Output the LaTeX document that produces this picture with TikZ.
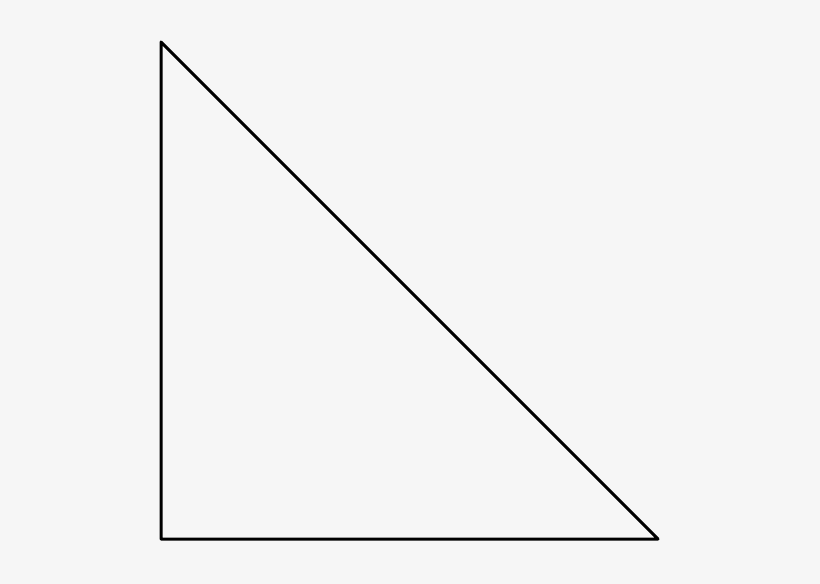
\documentclass[tikz,border=0pt]{standalone}
\definecolor{bg}{HTML}{F6F6F6}
\begin{document}
\begin{tikzpicture}[x=1pt,y=-1pt,edge/.style={line width=3pt,line join=round,line cap=round,black}]
\fill[bg] (0,0) rectangle (820,584);
\useasboundingbox (0,0) rectangle (820,584);
\coordinate (a) at (161,42);
\coordinate (b) at (161,539);
\coordinate (c) at (658,539);
\draw[edge] (a) -- (b) -- (c) -- cycle;
\end{tikzpicture}
\end{document}
